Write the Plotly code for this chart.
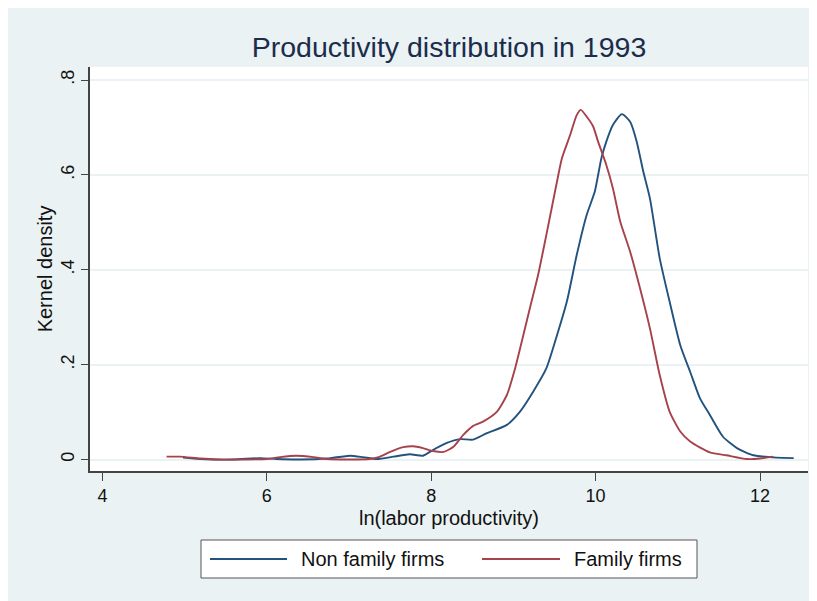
import plotly.graph_objects as go

# ---- data ----
nonfam_x = [4.98, 5.19, 5.59, 5.92, 6.12, 6.40, 6.73, 7.01, 7.17, 7.34, 7.54, 7.74, 7.90, 8.02, 8.19,
            8.35, 8.51, 8.67, 8.92, 9.08, 9.24, 9.40, 9.53, 9.65, 9.77, 9.89, 9.99, 10.07, 10.13,
            10.21, 10.32, 10.42, 10.50, 10.58, 10.66, 10.78, 10.90, 11.03, 11.15, 11.27, 11.39,
            11.55, 11.72, 11.92, 12.20, 12.41]
nonfam_y = [0.004, 0.001, 0.0, 0.003, 0.001, 0.0, 0.002, 0.008, 0.005, 0.001, 0.006, 0.011, 0.008,
            0.020, 0.035, 0.043, 0.042, 0.055, 0.073, 0.101, 0.143, 0.192, 0.262, 0.333, 0.431,
            0.515, 0.565, 0.635, 0.670, 0.705, 0.728, 0.712, 0.670, 0.607, 0.551, 0.424, 0.333,
            0.241, 0.185, 0.129, 0.094, 0.048, 0.024, 0.009, 0.004, 0.003]

fam_x = [4.78, 4.94, 5.19, 5.39, 5.71, 6.00, 6.16, 6.36, 6.57, 6.73, 7.01, 7.25, 7.36, 7.50, 7.66,
         7.78, 7.90, 8.02, 8.15, 8.27, 8.39, 8.51, 8.63, 8.80, 8.92, 9.02, 9.12, 9.20, 9.30, 9.40,
         9.53, 9.59, 9.69, 9.77, 9.82, 9.89, 9.97, 10.03, 10.13, 10.21, 10.30, 10.42, 10.54,
         10.66, 10.78, 10.90, 11.03, 11.15, 11.39, 11.59, 11.84, 12.00, 12.16]
fam_y = [0.006, 0.006, 0.002, 0.0, 0.0, 0.001, 0.005, 0.008, 0.005, 0.001, 0.0, 0.001, 0.005,
         0.016, 0.026, 0.028, 0.024, 0.018, 0.016, 0.027, 0.052, 0.071, 0.080, 0.101, 0.136,
         0.192, 0.262, 0.319, 0.389, 0.473, 0.586, 0.635, 0.684, 0.726, 0.737, 0.723, 0.702,
         0.670, 0.621, 0.572, 0.501, 0.438, 0.361, 0.277, 0.178, 0.101, 0.059, 0.038, 0.015,
         0.009, 0.001, 0.002, 0.006]

series_names = ["Non family firms", "Family firms"]
x_ticks = [4, 6, 8, 10, 12]
x_tick_labels = ["4", "6", "8", "10", "12"]
y_ticks = [0, 0.2, 0.4, 0.6, 0.8]
y_tick_labels = ["0", ".2", ".4", ".6", ".8"]

# ---- styling ----
BLUE = "#23537d"
RED = "#a6424c"
BG = "#eaf2f3"
FONT = "Liberation Sans, Arial, sans-serif"
W, H = 817, 601
OFF = 8  # page body margin
L, R, T, B = 82, 17, 59, 138
PW, PH = W - L - R, H - T - B


def px_x(p):  # screen px -> paper
    return (p - OFF - L) / PW


def px_y(p):
    return (H - B - (p - OFF)) / PH


fig = go.Figure()
fig.add_trace(go.Scatter(x=nonfam_x, y=nonfam_y, mode="lines", name=series_names[0],
                         line=dict(color=BLUE, width=1.9, shape="spline", smoothing=0.6)))
fig.add_trace(go.Scatter(x=fam_x, y=fam_y, mode="lines", name=series_names[1],
                         line=dict(color=RED, width=1.9, shape="spline", smoothing=0.6)))

shapes = []
# manual legend
lx0, lx1, ly0, ly1 = 201, 697, 540, 578
shapes.append(dict(type="rect", xref="paper", yref="paper", x0=px_x(lx0), x1=px_x(lx1),
                   y0=px_y(ly1), y1=px_y(ly0), fillcolor="white", line=dict(color="#555555", width=1)))
ymid = px_y(559)
shapes.append(dict(type="line", xref="paper", yref="paper", x0=px_x(210), x1=px_x(287),
                   y0=ymid, y1=ymid, line=dict(color=BLUE, width=2)))
shapes.append(dict(type="line", xref="paper", yref="paper", x0=px_x(482), x1=px_x(560),
                   y0=ymid, y1=ymid, line=dict(color=RED, width=2)))

annotations = [
    dict(text=series_names[0], xref="paper", yref="paper", x=px_x(299), y=ymid,
         xanchor="left", yanchor="middle", showarrow=False, font=dict(size=20, color="#111111", family=FONT)),
    dict(text=series_names[1], xref="paper", yref="paper", x=px_x(572), y=ymid,
         xanchor="left", yanchor="middle", showarrow=False, font=dict(size=20, color="#111111", family=FONT)),
]

fig.update_layout(
    width=W, height=H,
    margin=dict(l=L, r=R, t=T, b=B),
    paper_bgcolor=BG, plot_bgcolor="white",
    showlegend=False,
    font=dict(family=FONT, color="#111111"),
    title=dict(text="Productivity distribution in 1993", x=0.5, xref="paper", xanchor="center",
               y=1 - (47 - OFF) / H, yref="container", yanchor="middle",
               font=dict(size=28.5, color="#1c2c4c", family=FONT)),
    shapes=shapes,
    annotations=annotations,
    xaxis=dict(range=[3.848, 12.584], tickvals=x_ticks, ticktext=x_tick_labels,
               showgrid=False, zeroline=False, showline=True, linecolor="#444444", linewidth=1.5,
               ticks="outside", ticklen=8, tickcolor="#444444", tickwidth=1.3,
               tickfont=dict(size=18, color="#111111"),
               title=dict(text="ln(labor productivity)", font=dict(size=20, color="#111111"), standoff=6)),
    yaxis=dict(range=[-0.0242, 0.8274], tickvals=y_ticks, ticktext=y_tick_labels,
               showgrid=True, gridcolor=BG, gridwidth=1.5, zeroline=False,
               showline=True, linecolor="#444444", linewidth=1.5,
               ticks="outside", ticklen=7, tickcolor="#444444", tickwidth=1.3,
               tickangle=-90, tickfont=dict(size=18, color="#111111"),
               title=dict(text="Kernel density", font=dict(size=20, color="#111111"), standoff=0)),
)

fig.write_html("out.html")
